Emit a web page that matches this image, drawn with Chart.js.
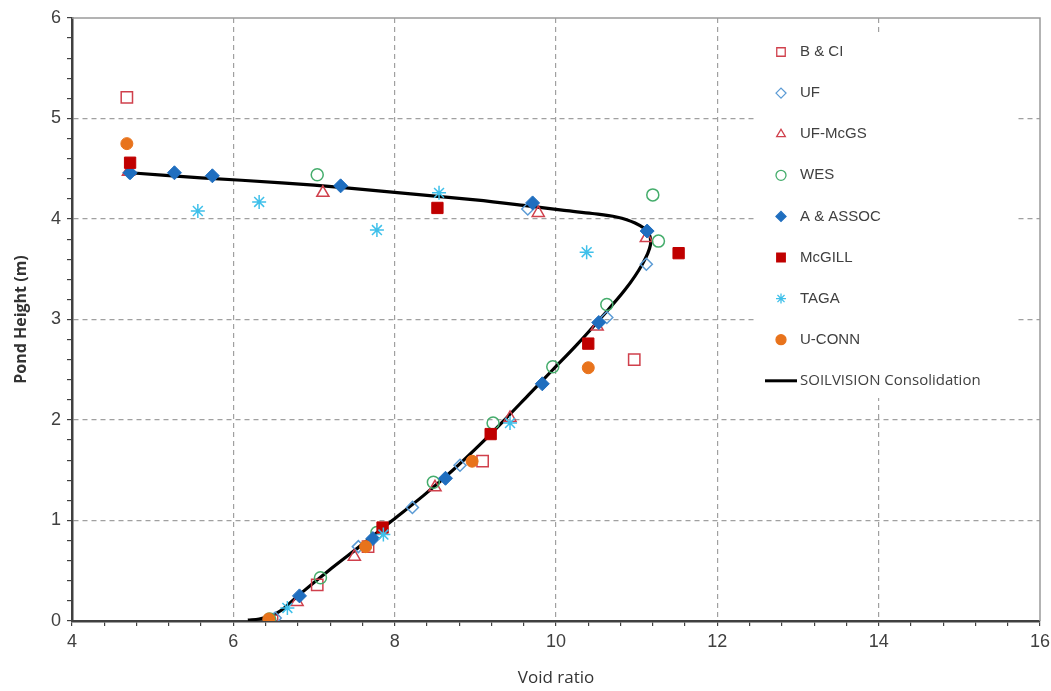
<!DOCTYPE html>
<html>
<head>
<meta charset="utf-8">
<script src="https://cdn.jsdelivr.net/npm/chart.js@4.4.0/dist/chart.umd.min.js"></script>
<style>
  html, body { margin: 0; padding: 0; background: #fff; }
  #wrap { width: 1051px; height: 691px; }
</style>
</head>
<body>
<div id="wrap"><canvas id="grafico"></canvas></div>
<script>
// pontos medidos [void ratio, altura]
const bci = [[4.68, 5.21], [10.97, 2.60], [9.09, 1.59], [7.67, 0.74], [7.04, 0.36], [6.48, 0.0]];
const uf = [[4.71, 4.46], [9.65, 4.10], [11.12, 3.55], [10.63, 3.02], [8.81, 1.55], [8.22, 1.13], [7.55, 0.74], [6.52, 0.03]];
const ufMcgs = [[4.70, 4.47], [7.11, 4.26], [9.78, 4.06], [11.12, 3.81], [10.51, 2.93], [9.43, 2.02], [8.50, 1.33], [7.50, 0.64], [6.79, 0.19], [6.48, 0.0]];
const wes = [[7.04, 4.44], [11.20, 4.24], [11.27, 3.78], [10.63, 3.15], [9.96, 2.53], [9.22, 1.97], [8.48, 1.38], [7.78, 0.88], [7.08, 0.43], [6.45, 0.02]];
const aAssoc = [[4.72, 4.46], [5.27, 4.46], [5.74, 4.43], [7.33, 4.33], [9.71, 4.16], [11.13, 3.88], [10.53, 2.97], [9.83, 2.36], [8.63, 1.42], [7.73, 0.82], [6.82, 0.25]];
const mcgill = [[4.72, 4.56], [8.53, 4.11], [11.52, 3.66], [10.40, 2.76], [9.19, 1.86], [7.85, 0.93]];
const taga = [[5.56, 4.08], [6.32, 4.17], [7.78, 3.89], [8.55, 4.26], [10.38, 3.67], [9.43, 1.97], [7.86, 0.86], [6.67, 0.13]];
const uConn = [[4.68, 4.75], [10.40, 2.52], [8.96, 1.59], [7.64, 0.74], [6.44, 0.02]];
// curva SOILVISION
const soilvision = [[6.18, 0.01], [6.32, 0.02], [6.46, 0.05], [6.60, 0.11], [6.80, 0.25], [7.18, 0.50],
  [7.58, 0.75], [7.97, 1.0], [8.36, 1.25], [8.72, 1.5], [9.05, 1.75], [9.36, 2.0], [9.66, 2.25], [9.96, 2.5],
  [10.26, 2.75], [10.54, 3.0], [10.86, 3.3], [11.07, 3.55], [11.17, 3.74], [11.14, 3.87], [10.98, 3.96],
  [10.75, 4.02], [10.45, 4.055], [10.1, 4.085], [9.6, 4.135], [9.0, 4.19], [8.2, 4.25], [7.4, 4.31],
  [6.6, 4.36], [5.6, 4.41], [4.72, 4.46]];

const toXY = (arr) => arr.map(p => ({ x: p[0], y: p[1] }));

const isMultiple = (v, m) => Math.abs(v / m - Math.round(v / m)) < 1e-6;

function serie(label, pts, style, color, radius, filled) {
  return {
    label: label,
    data: toXY(pts),
    pointStyle: style,
    pointRadius: radius,
    pointHoverRadius: radius,
    borderColor: color,
    backgroundColor: filled ? color : "rgba(255,255,255,0)",
    pointBorderWidth: filled ? 1 : 1.5,
    showLine: false,
  };
}

const datasets = [
  serie("U-CONN", uConn, "circle", "#e8731c", 6, true),
  serie("TAGA", taga, "star", "#3fc0ea", 7, false),
  serie("McGILL", mcgill, "rect", "#c00000", 8, true),
  serie("A & ASSOC", aAssoc, "rectRot", "#1f6ebf", 7, true),
  serie("WES", wes, "circle", "#45ad6c", 6, false),
  serie("UF-McGS", ufMcgs, "triangle", "#d0404c", 7, false),
  serie("UF", uf, "rectRot", "#5b9bd5", 6, false),
  serie("B & CI", bci, "rect", "#d0404c", 8, false),
  {
    label: "SOILVISION Consolidation",
    data: toXY(soilvision),
    showLine: true,
    borderColor: "#000",
    borderWidth: 3.2,
    pointRadius: 0,
    tension: 0.35,
    fill: false,
  },
];

const legendOrder = ["B & CI", "UF", "UF-McGS", "WES", "A & ASSOC", "McGILL", "TAGA", "U-CONN", "SOILVISION Consolidation"];

// moldura e legenda dentro da área do gráfico
const legendaInterna = {
  id: "legendaInterna",
  beforeDatasetsDraw(chart) {
    const { ctx, chartArea: a } = chart;
    ctx.save();
    ctx.strokeStyle = "#9a9a9a";
    ctx.lineWidth = 1.5;
    ctx.beginPath();
    ctx.moveTo(a.left, a.top);
    ctx.lineTo(a.right, a.top);
    ctx.lineTo(a.right, a.bottom);
    ctx.stroke();
    ctx.fillStyle = "#fff";
    ctx.fillRect(756, 32, 262, 366);
    ctx.restore();
  },
  afterDraw(chart) {
    const ctx = chart.ctx;
    ctx.save();
    legendOrder.forEach((nome, i) => {
      const ds = chart.data.datasets.find(d => d.label === nome);
      const y = 52 + i * 41.1;
      if (ds.showLine) {
        ctx.strokeStyle = "#000";
        ctx.lineWidth = 3;
        ctx.beginPath();
        ctx.moveTo(765, y);
        ctx.lineTo(797, y);
        ctx.stroke();
        ctx.font = "15px 'Open Sans', sans-serif";
      } else {
        ctx.strokeStyle = ds.borderColor;
        ctx.fillStyle = ds.backgroundColor;
        ctx.lineWidth = 1.3;
        Chart.helpers.drawPoint(ctx, {
          pointStyle: ds.pointStyle,
          radius: ds.pointStyle === "rect" ? 6 : 5,
          rotation: 0,
          borderWidth: 1.3,
        }, 781, y);
        ctx.font = "15px 'Liberation Sans', Arial, sans-serif";
      }
      ctx.fillStyle = "#404040";
      ctx.textBaseline = "middle";
      ctx.textAlign = "left";
      ctx.fillText(nome, 800, y);
    });
    ctx.restore();
  },
};

const tickFont = { family: "'Liberation Sans Narrow', 'Liberation Sans', Arial, sans-serif", size: 18 };

new Chart(document.getElementById("grafico"), {
  type: "scatter",
  data: { datasets: datasets },
  options: {
    responsive: true,
    maintainAspectRatio: false,
    animation: false,
    layout: { padding: { top: 18, right: 11, bottom: 3, left: 0 } },
    plugins: { legend: { display: false }, tooltip: { enabled: false } },
    scales: {
      x: {
        type: "linear",
        min: 4,
        max: 16,
        afterFit: (s) => { s.height = 67; s.paddingRight = 0; s.paddingLeft = 0; },
        ticks: {
          stepSize: 0.4,
          maxTicksLimit: 100,
          autoSkip: false,
          maxRotation: 0,
          padding: 5,
          font: tickFont,
          color: "#404040",
          callback: (v) => (isMultiple(v, 2) ? String(Math.round(v)) : ""),
        },
        grid: {
          color: (c) => (isMultiple(c.tick.value, 2) && c.tick.value > 4.01 && c.tick.value < 15.99 ? "#a0a0a0" : "rgba(0,0,0,0)"),
          lineWidth: 1.2,
          tickColor: "#404040",
          tickLength: 5,
        },
        border: { display: true, color: "#404040", width: 2.5, dash: [5, 4] },
        title: {
          display: true,
          text: "Void ratio",
          color: "#333",
          font: { family: "'Open Sans', sans-serif", size: 17 },
          padding: { top: 4, bottom: 0 },
        },
      },
      y: {
        type: "linear",
        min: 0,
        max: 6,
        afterFit: (s) => { s.width = 72; },
        ticks: {
          stepSize: 0.2,
          maxTicksLimit: 100,
          autoSkip: false,
          padding: 6,
          font: tickFont,
          color: "#404040",
          callback: (v) => (isMultiple(v, 1) ? String(Math.round(v)) : ""),
        },
        grid: {
          color: (c) => (isMultiple(c.tick.value, 1) && c.tick.value > 0.01 && c.tick.value < 5.99 ? "#a0a0a0" : "rgba(0,0,0,0)"),
          lineWidth: 1.2,
          tickColor: "#404040",
          tickLength: 5,
        },
        border: { display: true, color: "#404040", width: 2.5, dash: [5, 4] },
        title: {
          display: true,
          text: "Pond Height (m)",
          color: "#333",
          font: { family: "'Open Sans', sans-serif", size: 16, weight: "bold" },
          padding: { top: 12, bottom: 0 },
        },
      },
    },
  },
  plugins: [legendaInterna],
});
</script>
</body>
</html>
